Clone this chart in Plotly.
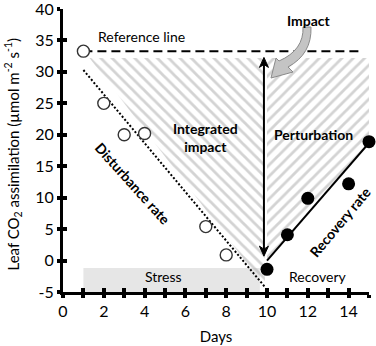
import plotly.graph_objects as go

# ---------------- data ----------------
stress_days = [1, 2, 3, 4, 7, 8]
stress_vals = [33.3, 25.0, 20.0, 20.2, 5.4, 0.9]
recov_days = [10, 11, 12, 14, 15]
recov_vals = [-1.4, 4.1, 9.9, 12.2, 18.9]
reference_value = 33.3
disturb_line_x = [1, 9.9]
disturb_line_y = [30.3, -4.2]
recov_line_x = [10, 15]
recov_line_y = [0.0, 18.7]
hatch_top = 32.2
x_major_ticks = list(range(0, 16, 2))
x_all_ticks = list(range(0, 16))
y_ticks = list(range(-5, 41, 5))
y_ticktext = ["-5", "0", "5", "10", "15", "20", "25", "30", "35", "40"]

FONT = "Lato, 'Open Sans', sans-serif"
TOP, BOT = 9, 54
PLOT_H = 346 - TOP - BOT
Y_SCALE = PLOT_H / 45.0
Y0_PX = TOP + 40 * Y_SCALE

fig = go.Figure()

# hatched areas
fig.add_trace(go.Scatter(
    x=[1.3, 9.9, 9.9, 1.3], y=[hatch_top, hatch_top, -4.2, hatch_top],
    mode="lines", line=dict(width=0), fill="toself",
    fillcolor="rgba(0,0,0,0)",
    fillpattern=dict(shape="\\", fgcolor="#a8a8a8", bgcolor="rgba(0,0,0,0)", size=8, solidity=0.35),
    hoverinfo="skip", showlegend=False))
fig.add_trace(go.Scatter(
    x=[10, 15, 15, 10, 10], y=[hatch_top, hatch_top, 18.7, 0.0, hatch_top],
    mode="lines", line=dict(width=0), fill="toself",
    fillcolor="rgba(0,0,0,0)",
    fillpattern=dict(shape="/", fgcolor="#a8a8a8", bgcolor="rgba(0,0,0,0)", size=8, solidity=0.35),
    hoverinfo="skip", showlegend=False))

# reference dashed line
fig.add_trace(go.Scatter(x=[1, 14.6], y=[reference_value, reference_value], mode="lines",
                         line=dict(color="black", width=2, dash="9px,5px"),
                         hoverinfo="skip", showlegend=False))
# disturbance dotted line
fig.add_trace(go.Scatter(x=disturb_line_x, y=disturb_line_y, mode="lines",
                         line=dict(color="black", width=2, dash="2px,2px"),
                         hoverinfo="skip", showlegend=False))
# recovery line
fig.add_trace(go.Scatter(x=recov_line_x, y=recov_line_y, mode="lines",
                         line=dict(color="black", width=2),
                         hoverinfo="skip", showlegend=False))
# open circles
fig.add_trace(go.Scatter(x=stress_days, y=stress_vals, mode="markers",
                         marker=dict(size=12, color="white", line=dict(color="#333", width=1.4)),
                         cliponaxis=False, showlegend=False))
# filled circles
fig.add_trace(go.Scatter(x=recov_days, y=recov_vals, mode="markers",
                         marker=dict(size=13, color="black"),
                         cliponaxis=False, showlegend=False))

# dummy trace for overlay axes
fig.add_trace(go.Scatter(x=[0], y=[0], xaxis="x2", yaxis="y2", mode="markers",
                         marker=dict(size=0.1, opacity=0), hoverinfo="skip", showlegend=False))

# stress band
fig.add_shape(type="rect", x0=1, x1=9.65, y0=-5, y1=-1.2, fillcolor="#e6e6e6",
              line=dict(width=0), layer="below")

def P(px, py):
    return f"{(px - 63) / 20.4:.3f},{(Y0_PX - py) / Y_SCALE:.3f}"

def PX(x):
    return 63 + x * 20.4

def PY(y):
    return Y0_PX - y * Y_SCALE

# impact vertical double arrow (line + two heads)
fig.add_shape(type="line", x0=9.85, x1=9.85, y0=1.8, y1=31.2, line=dict(color="black", width=2))
ax_px = PX(9.85)
top_py = PY(32.3)
bot_py = PY(0.7)
head_up = ("M " + P(ax_px, top_py) + " L " + P(ax_px - 4.5, top_py + 10) + " L " +
           P(ax_px, top_py + 7) + " L " + P(ax_px + 4.5, top_py + 10) + " Z")
head_dn = ("M " + P(ax_px, bot_py) + " L " + P(ax_px - 4.5, bot_py - 10) + " L " +
           P(ax_px, bot_py - 7) + " L " + P(ax_px + 4.5, bot_py - 10) + " Z")
for hp in (head_up, head_dn):
    fig.add_shape(type="path", path=hp, xref="x", yref="y", fillcolor="black",
                  line=dict(color="black", width=1))

# curved grey arrow from "Impact"
path = ("M " + P(303, 27) + " Q " + P(304, 50) + " " + P(279, 61) +
        " L " + P(276, 58) + " L " + P(271, 78) + " L " + P(293, 72) +
        " L " + P(288, 67) + " Q " + P(312, 54) + " " + P(311, 27) + " Z")
fig.add_shape(type="path", path=path, xref="x", yref="y",
              fillcolor="#c4c4c4", line=dict(color="#8a8a8a", width=1))

def txt(x, y, s, size=14, bold=False, angle=0, xanchor="center"):
    fig.add_annotation(x=x, y=y, xref="x", yref="y", text=(f"<b>{s}</b>" if bold else s),
                       showarrow=False, textangle=angle, xanchor=xanchor,
                       font=dict(family=FONT, size=size, color="black"))

txt(3.85, 35.7, "Reference line")
txt(12.06, 38.2, "Impact", bold=True)
txt(7.0, 19.5, "Integrated<br>impact", bold=True)
txt(12.3, 20.05, "Perturbation", bold=True)
txt(3.43, 12.3, "Disturbance rate", bold=True, angle=48)
txt(13.6, 6.2, "Recovery rate", bold=True, angle=-50)
txt(4.95, -2.5, "Stress")
txt(12.5, -2.5, "Recovery")

# y-axis title
fig.add_annotation(x=0, y=0.5, xref="paper", yref="paper", xshift=-50, yshift=-4,
                   text="Leaf CO<sub>2</sub> assimilation (µmol m<sup>-2</sup> s<sup>-1</sup>)",
                   showarrow=False, textangle=-90, xanchor="center", yanchor="middle",
                   font=dict(family=FONT, size=15, color="black"))

TICKFONT = dict(family=FONT, size=16, color="black")

fig.update_layout(
    width=376, height=346, margin=dict(l=63, r=7, t=TOP, b=BOT, autoexpand=False),
    plot_bgcolor="white", paper_bgcolor="white",
    xaxis=dict(range=[0, 15], tickvals=x_major_ticks, showgrid=False, zeroline=False,
               showline=True, linecolor="black", linewidth=3, automargin=False,
               ticks="outside", ticklen=3, tickwidth=4, tickcolor="black",
               minor=dict(dtick=1, tick0=0, ticks="outside", ticklen=3, tickwidth=4,
                          tickcolor="black", showgrid=False),
               tickfont=TICKFONT, ticklabeloverflow="allow",
               title=dict(text="Days", font=dict(family=FONT, size=15, color="black"), standoff=13)),
    yaxis=dict(range=[-5, 40], tickvals=y_ticks, ticktext=y_ticktext, showgrid=False,
               zeroline=False, showline=True, linecolor="black", linewidth=3, automargin=False,
               ticks="outside", ticklen=3, tickwidth=4, tickcolor="black",
               tickfont=TICKFONT, ticklabeloverflow="allow"),
    xaxis2=dict(range=[0, 15], overlaying="x", anchor="y2", side="bottom", tickvals=x_all_ticks,
                showticklabels=False, ticks="inside", ticklen=4, tickwidth=4, tickcolor="black",
                showgrid=False, zeroline=False, showline=False, automargin=False),
    yaxis2=dict(range=[-5, 40], overlaying="y", anchor="x2", side="left", tickvals=y_ticks,
                showticklabels=False, ticks="inside", ticklen=4, tickwidth=4, tickcolor="black",
                showgrid=False, zeroline=False, showline=False, automargin=False),
    showlegend=False,
)

fig.write_html("out.html")
